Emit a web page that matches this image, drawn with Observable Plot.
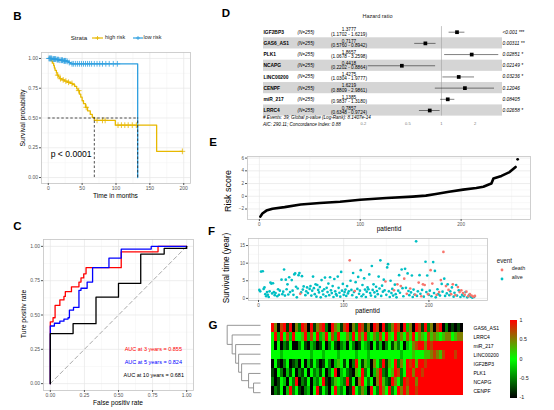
<!DOCTYPE html>
<html><head><meta charset="utf-8">
<script src="https://cdn.jsdelivr.net/npm/d3@7"></script>
<script src="https://cdn.jsdelivr.net/npm/@observablehq/plot@0.6"></script>
<style>
html,body{margin:0;padding:0;background:#fff;}
#root{position:relative;width:554px;height:410px;overflow:hidden;background:#fff;}
#root svg{overflow:visible;}
</style></head><body><div id="root"></div>
<script>
// ---------------- DATA ----------------
// B: Kaplan-Meier
const highTime = [0,4,6,8,9,10,12,13,15,17,20,24,28,33,36,39,42,44,46,48,50,52,55,58,62,65,68,99,160,198];
const highSurv = [1,0.98,0.96,0.94,0.92,0.90,0.88,0.86,0.845,0.83,0.82,0.81,0.80,0.79,0.78,0.765,0.745,0.73,0.70,0.675,0.645,0.62,0.59,0.56,0.53,0.505,0.48,0.44,0.22,0.22];
const highCensor = [14,18,22,26,30,35,45,56,72,80,84,103,108,113,118,124,130,198];
const lowTime = [0,6,12,16,22,27,30,33,132];
const lowSurv = [1,0.995,0.99,0.985,0.98,0.975,0.965,0.955,0];
const lowCensor = [1,2,3,4,5,7,8,9,10,11,13,14,15,17,19,20,21,23,24,25,26,28,31,35,37,40,43,46,49,52,55,58,61,64,68,72,76,80,85,90,96,102];
const kmXTicks = [0,50,100,150,200];
const probTicks = [0,0.25,0.5,0.75,1];

// C: ROC curves (step vertices)
const roc3 = [[0,0],[0,0.45],[0.02,0.48],[0.035,0.57],[0.07,0.61],[0.1,0.635],[0.11,0.67],[0.155,0.705],[0.21,0.74],[0.225,0.77],[0.245,0.80],[0.262,0.845],[0.52,0.96],[0.79,1],[1,1]];
const roc5 = [[0,0],[0,0.42],[0.03,0.44],[0.07,0.455],[0.1,0.47],[0.13,0.48],[0.14,0.535],[0.17,0.555],[0.21,0.68],[0.225,0.695],[0.27,0.74],[0.31,0.845],[0.43,0.915],[0.52,0.98],[0.74,1],[1,1]];
const roc10 = [[0,0],[0,0.365],[0.167,0.437],[0.335,0.63],[0.5,0.73],[0.663,0.944],[0.835,0.985],[1,1]];
const aucLabels = ["AUC at 3 years = 0.855","AUC at 5 years = 0.824","AUC at 10 years = 0.681"];
const rocColors = ["#ff0000","#0000ff","#000000"];

// D: forest plot
const fpGene = ["IGF2BP3","GAS6_AS1","PLK1","NCAPG","LINC00200","CENPF","miR_217","LRRC4"];
const fpHR = [1.3777,0.7177,1.8657,0.4418,1.4275,1.6219,1.1385,0.7857];
const fpLo = [1.1702,0.5760,1.0678,0.2202,1.0304,0.8809,0.9837,0.6348];
const fpHi = [1.6219,0.8942,3.2598,0.8864,1.9777,2.9861,1.3180,0.9724];
const fpP = ["<0.001","0.00311","0.02851","0.02149","0.03236","0.12046","0.08405","0.02658"];
const fpStars = ["***","**","*","*","*","","","*"];
const fpN = 255;
const fpTicks = [0.2,0.5,1,2];
const fpNote1 = "# Events: 39; Global p-value (Log-Rank): 8.1407e-14";
const fpNote2 = "AIC: 290.11; Concordance Index: 0.88";

// E: risk score (sorted)
const riskId = [1,3,7,13,25,41,60,80,100,126,152,165,175,188,202,215,222,228,230,232,240,248,254];
const riskScore = [-3.2,-2.7,-2.25,-1.95,-1.7,-1.3,-1.05,-0.85,-0.55,-0.28,-0.05,0.1,0.35,0.72,1.05,1.3,1.5,1.9,2.0,2.8,3.2,3.8,4.6];
const riskOutlier = [[256,5.8]];

// F: survival time per patient
const alive = [[1,2.4],[2,2.0],[3,7.6],[5,7.7],[6,2.7],[7,3.1],[8,1.2],[9,0.6],[10,1.8],[11,1.0],[12,0.4],[13,2.0],[14,4.5],[15,4.2],[16,1.4],[17,4.3],[18,1.8],[19,0.9],[20,1.5],[22,0.6],[23,2.6],[24,1.0],[25,2.2],[27,5.3],[28,1.2],[29,1.9],[30,8.2],[31,0.8],[32,5.3],[33,2.6],[34,4.0],[35,1.1],[36,6.0],[37,1.8],[39,5.2],[40,2.2],[41,1.0],[42,6.8],[43,7.1],[44,3.3],[45,0.3],[46,2.8],[47,6.6],[48,7.2],[50,1.7],[51,6.3],[52,2.5],[53,3.4],[55,0.9],[56,2.0],[57,3.1],[58,1.5],[60,2.7],[61,3.5],[62,0.8],[63,2.2],[64,6.2],[65,2.9],[66,1.2],[67,4.0],[68,0.5],[69,3.8],[70,2.4],[71,1.7],[72,3.2],[73,0.3],[74,5.2],[75,2.1],[76,1.1],[77,2.6],[78,5.9],[79,0.6],[80,3.0],[81,1.8],[82,4.2],[83,0.9],[84,6.0],[85,2.3],[86,1.5],[87,3.5],[88,0.4],[89,5.5],[90,2.0],[91,1.2],[92,0.8],[93,6.2],[94,3.0],[95,1.6],[96,0.5],[97,7.5],[98,2.2],[99,4.1],[100,1.0],[101,1.8],[102,2.5],[103,0.7],[104,3.5],[105,1.4],[106,2.0],[108,5.0],[109,2.4],[110,0.9],[111,7.2],[112,1.8],[114,4.6],[115,0.3],[116,2.7],[117,6.1],[118,1.3],[119,2.2],[120,8.0],[121,0.6],[122,3.8],[123,1.1],[124,5.7],[125,2.5],[126,0.4],[127,1.9],[128,3.1],[129,2.6],[130,6.8],[131,1.5],[132,0.8],[133,9.2],[134,2.4],[135,4.0],[136,1.7],[137,0.5],[138,3.3],[139,2.1],[140,1.2],[141,6.2],[142,2.8],[143,10.8],[144,0.7],[145,3.6],[146,1.9],[147,5.3],[148,2.3],[150,1.0],[151,8.8],[152,9.7],[153,2.0],[154,0.4],[155,5.0],[156,1.5],[157,2.7],[158,0.8],[160,3.9],[161,1.2],[162,0.3],[164,2.2],[165,6.6],[166,1.6],[168,8.2],[169,2.9],[170,0.6],[172,8.4],[173,3.0],[175,7.1],[176,2.1],[177,0.9],[179,1.7],[180,6.5],[181,0.4],[182,2.5],[183,1.1],[185,16.2],[186,0.7],[187,2.0],[189,6.6],[190,1.3],[192,2.4],[194,0.5],[196,10.4],[197,1.8],[198,6.5],[200,1.0],[201,2.2],[203,0.6],[205,10.3],[206,1.5],[207,7.8],[208,0.3],[210,2.6],[211,1.2],[213,0.8],[215,4.1],[216,1.9],[218,5.6],[219,0.7],[221,1.4],[222,4.0],[224,0.9],[225,2.0],[227,3.1],[229,0.5],[230,1.6],[232,3.8],[233,0.8],[235,2.3],[237,0.4],[239,1.0],[241,0.6],[243,1.8],[245,0.3],[247,0.9],[249,0.5],[251,0.2],[253,0.4]];
const death = [[49,1.3],[107,10.8],[113,2.1],[149,4.8],[159,2.3],[163,4.0],[167,3.5],[171,5.6],[174,1.3],[178,2.8],[184,1.0],[188,4.5],[191,0.6],[193,4.0],[195,3.8],[199,1.2],[202,8.0],[204,4.2],[209,1.0],[212,1.8],[214,5.2],[217,13.2],[220,3.5],[223,2.4],[226,1.2],[228,4.0],[231,0.9],[234,3.2],[236,1.8],[238,2.3],[240,1.5],[242,1.0],[244,1.9],[246,0.6],[248,1.2],[250,0.8],[252,0.5],[254,0.7]];

// G: heatmap (digit d -> value (d-4)/4, i.e. 0=-1 ... 4=0 ... 8=1)
const heatGenes = ["GAS6_AS1","LRRC4","miR_217","LINC00200","IGF2BP3","PLK1","NCAPG","CENPF"];
const heatRows = [
 "86078180 62870816 78208651 78062871 60870812 68708360 87182607 80201010",
 "48384738 44583748 35847384 46384758 34637485 48364758 46547565 45664566",
 "40402140 02410320 14024102 30420143 20413024 15240346 78868788 88888888",
 "44434444 44444344 43444434 44443444 34444444 44434445 44455676 57888788",
 "04102401 20403142 01420354 14028415 30642815 48264878 58878888 88888888",
 "10420314 02140423 14024803 42105482 40368214 58724886 88788888 88888888",
 "20143042 80214032 48102543 28140684 24068521 86428788 68888888 88888888",
 "02140382 41023048 14204832 40184263 08428648 24868688 78888888 88888888"
];
const dendroHeights = [0.7,1.2,1.9,2.2,2.5,2.85,3.35];
const heatColorDomain = [-1,0,1];
const heatColorRange = ["#000000","#00ff00","#ff0000"];
const heatLegendTicks = ["1","0.5","0","-0.5","-1"];

// ---------------- HELPERS ----------------
const FONT = '"Liberation Sans", Arial, Helvetica, sans-serif';
const root = document.getElementById("root");
function put(node, left, top) {
  node.style.position = "absolute"; node.style.left = left + "px"; node.style.top = top + "px";
  root.appendChild(node); return node;
}
function label(text, x, y, o = {}) {
  const d = document.createElement("div");
  d.textContent = text;
  const a = o.anchor || "middle";
  const tx = a === "middle" ? "-50%" : a === "end" ? "-100%" : "0";
  d.style.cssText = `position:absolute;left:${x}px;top:${y}px;white-space:nowrap;line-height:1;` +
    `font-family:${FONT};font-size:${o.size || 6}px;color:${o.color || "#000"};` +
    `font-weight:${o.weight || "normal"};font-style:${o.italic ? "italic" : "normal"};` +
    `transform:translate(${tx},-50%)${o.rotate ? " rotate(-90deg)" : ""};transform-origin:50% 50%;`;
  root.appendChild(d); return d;
}
function svgEl(html, left, top, w, h) {
  const d = document.createElement("div");
  d.innerHTML = `<svg width="${w}" height="${h}" xmlns="http://www.w3.org/2000/svg">${html}</svg>`;
  d.style.lineHeight = "0";
  return put(d, left, top);
}
const baseStyle = {fontFamily: FONT, fontSize: "5px", color: "#4d4d4d", background: "transparent", overflow: "visible"};
const GRID_MAJ = "#e6e6e6", GRID_MIN = "#f3f3f3", FRAME = "#c4c4c4";

// ---------------- B: KM ----------------
const HIGH = "#E7B800", LOW = "#2E9FDF";
const survAt = (times, survs, t) => { let s = survs[0]; for (let i = 0; i < times.length; i++) if (times[i] <= t) s = survs[i]; return s; };
const medianOf = (times, survs) => times[survs.findIndex(s => s <= 0.5)];
const kmHigh = highTime.map((t, i) => ({t, s: highSurv[i]}));
const kmLow = lowTime.map((t, i) => ({t, s: lowSurv[i]}));
const cenHigh = highCensor.map(t => ({t, s: survAt(highTime, highSurv, t)}));
const cenLow = lowCensor.map(t => ({t, s: survAt(lowTime, lowSurv, t)}));
const medHigh = medianOf(highTime, highSurv), medLow = medianOf(lowTime, lowSurv);
const midTicks = a => a.slice(1).map((v, i) => (v + a[i]) / 2);

const plotB = Plot.plot({
  width: 200, height: 200, marginLeft: 41, marginRight: 10, marginTop: 52, marginBottom: 17,
  x: {domain: [-10, 210]}, y: {domain: [-0.05, 1.05]},
  style: baseStyle,
  marks: [
    Plot.gridX({ticks: midTicks(kmXTicks), stroke: GRID_MIN, strokeOpacity: 1, strokeWidth: 0.5}),
    Plot.gridY({ticks: midTicks(probTicks), stroke: GRID_MIN, strokeOpacity: 1, strokeWidth: 0.5}),
    Plot.gridX({ticks: kmXTicks, stroke: GRID_MAJ, strokeOpacity: 1, strokeWidth: 0.7}),
    Plot.gridY({ticks: probTicks, stroke: GRID_MAJ, strokeOpacity: 1, strokeWidth: 0.7}),
    Plot.frame({stroke: FRAME, strokeWidth: 0.8}),
    Plot.axisX({ticks: kmXTicks, tickSize: 2, tickPadding: 1, label: null, fontSize: 5, color: "#555"}),
    Plot.axisY({ticks: probTicks, tickFormat: d3.format(".2f"), tickSize: 2, tickPadding: 1.5, label: null, fontSize: 5, color: "#555"}),
    Plot.line(kmHigh, {x: "t", y: "s", curve: "step-after", stroke: HIGH, strokeWidth: 1.3}),
    Plot.line(kmLow, {x: "t", y: "s", curve: "step-after", stroke: LOW, strokeWidth: 1.3}),
    Plot.dot(cenHigh, {x: "t", y: "s", symbol: "plus", r: 2, stroke: HIGH, strokeWidth: 0.8}),
    Plot.dot(cenLow, {x: "t", y: "s", symbol: "plus", r: 2, stroke: LOW, strokeWidth: 0.8}),
    Plot.ruleY([0.5], {x1: 0, x2: medLow, stroke: "#222", strokeWidth: 0.8, strokeDasharray: "2.5,2"}),
    Plot.ruleX([medHigh, medLow], {y1: 0, y2: 0.5, stroke: "#222", strokeWidth: 0.8, strokeDasharray: "2.5,2"})
  ]
});
put(plotB, 0, 0);
label("B", 17.5, 16.7, {size: 11.5, weight: "bold"});
label("Strata", 70.7, 37.5, {size: 6.2, anchor: "start", color: "#222"});
svgEl(`<line x1="0" y1="3" x2="11" y2="3" stroke="${HIGH}" stroke-width="1.2"/><path d="M5.5 1v4M3.5 3h4" stroke="${HIGH}" stroke-width="0.8"/>`, 92, 34.5, 11, 6);
label("high risk", 105, 37.5, {size: 5.4, anchor: "start", color: "#222"});
svgEl(`<line x1="0" y1="3" x2="10" y2="3" stroke="${LOW}" stroke-width="1.2"/><path d="M5 1v4M3 3h4" stroke="${LOW}" stroke-width="0.8"/>`, 132.5, 34.5, 10, 6);
label("low risk", 143.5, 37.5, {size: 5.4, anchor: "start", color: "#222"});
label("p < 0.0001", 50.7, 154, {size: 8.6, anchor: "start"});
label("Survival probability", 23, 117.5, {size: 6.8, rotate: true});
label("Time in months", 115.5, 195.5, {size: 6.6});

// ---------------- C: ROC ----------------
const rocSeries = [roc3, roc5, roc10].map((pts, k) => pts.map(([f, t]) => ({f, t, k})));
const diag = [0, 1].map(v => ({f: v, t: v}));
const plotC = Plot.plot({
  width: 200, height: 210, marginLeft: 43, marginRight: 7, marginTop: 39, marginBottom: 20,
  x: {domain: [-0.05, 1.05]}, y: {domain: [-0.05, 1.05]},
  style: baseStyle,
  marks: [
    Plot.gridX({ticks: midTicks(probTicks), stroke: GRID_MIN, strokeOpacity: 1, strokeWidth: 0.5}),
    Plot.gridY({ticks: midTicks(probTicks), stroke: GRID_MIN, strokeOpacity: 1, strokeWidth: 0.5}),
    Plot.gridX({ticks: probTicks, stroke: GRID_MAJ, strokeOpacity: 1, strokeWidth: 0.7}),
    Plot.gridY({ticks: probTicks, stroke: GRID_MAJ, strokeOpacity: 1, strokeWidth: 0.7}),
    Plot.frame({stroke: FRAME, strokeWidth: 0.8}),
    Plot.axisX({ticks: probTicks, tickFormat: d3.format(".2f"), tickSize: 2, tickPadding: 1, label: null, fontSize: 5, color: "#555"}),
    Plot.axisY({ticks: probTicks, tickFormat: d3.format(".2f"), tickSize: 2, tickPadding: 1.5, label: null, fontSize: 5, color: "#555"}),
    Plot.line(diag, {x: "f", y: "t", stroke: "#aaaaaa", strokeWidth: 1, strokeDasharray: "4,3"}),
    ...rocSeries.map((s, k) => Plot.line(s, {x: "f", y: "t", curve: "step-after", stroke: rocColors[k], strokeWidth: 1.3}))
  ]
});
put(plotC, 0, 200);
label("C", 17.5, 227, {size: 11.5, weight: "bold"});
label(aucLabels[0], 153.3, 350, {size: 5.5, color: rocColors[0]});
label(aucLabels[1], 153.3, 363.3, {size: 5.5, color: rocColors[1]});
label(aucLabels[2], 153.8, 376, {size: 5.5, color: rocColors[2]});
label("Ture positiv rate", 24, 314, {size: 6.8, rotate: true});
label("False positiv rate", 118, 403, {size: 6.6});

// ---------------- D: forest ----------------
const XDOM = [0.0255, 3.52];
const fpRows = fpGene.map((g, i) => ({i, gene: g, hr: fpHR[i], lo: fpLo[i], hi: fpHi[i], p: fpP[i], stars: fpStars[i]}));
const plotD = Plot.plot({
  width: 324, height: 130, marginLeft: 33, marginRight: 52, marginTop: 26.1, marginBottom: 14.4,
  x: {type: "log", domain: XDOM}, y: {domain: [fpGene.length - 0.5, -0.5], axis: null},
  style: {...baseStyle, fontSize: "4.7px", color: "#000"},
  marks: [
    Plot.rect(fpRows.filter(d => d.i % 2 === 1), {x1: XDOM[0], x2: XDOM[1], y1: d => d.i - 0.5, y2: d => d.i + 0.5, fill: "#d5d5d5"}),
    Plot.ruleX([1], {stroke: "#a0a0a0", strokeWidth: 0.6}),
    Plot.ruleY(fpRows, {y: "i", x1: "lo", x2: "hi", stroke: "#000", strokeWidth: 0.5}),
    Plot.dot(fpRows, {y: "i", x: "hr", symbol: "square", r: 2.1, fill: "#000"}),
    Plot.text(fpRows, {y: "i", text: "gene", frameAnchor: "left", textAnchor: "start", fontWeight: "bold", fontSize: 4.9}),
    Plot.text(fpRows, {y: "i", text: () => `(N=${fpN})`, frameAnchor: "left", textAnchor: "start", dx: 34, fontStyle: "italic", fontSize: 4.6}),
    Plot.text(fpRows, {y: "i", text: d => d.hr.toFixed(4), frameAnchor: "left", textAnchor: "middle", dx: 85.5, dy: -2.3, fontSize: 4.7}),
    Plot.text(fpRows, {y: "i", text: d => `(${d.lo.toFixed(4)} - ${d.hi.toFixed(4)})`, frameAnchor: "left", textAnchor: "middle", dx: 85.5, dy: 2, fontSize: 4.7}),
    Plot.text(fpRows, {y: "i", text: d => d.p + (d.stars ? " " + d.stars : ""), frameAnchor: "right", textAnchor: "start", fontStyle: "italic", fontSize: 4.8}),
    Plot.axisX({ticks: fpTicks, tickFormat: d => String(d), tickSize: 0, tickPadding: 6.5, label: null, fontSize: 4, color: "#777"})
  ]
});
put(plotD, 230, 0);
label("D", 226, 14, {size: 11.5, weight: "bold"});
label("Hazard ratio", 377.5, 16.7, {size: 5.5, color: "#222"});
label(fpNote1, 263, 118.3, {size: 4.6, anchor: "start", italic: true});
label(fpNote2, 263, 124.6, {size: 4.6, anchor: "start", italic: true});

// ---------------- E: risk score ----------------
const riskTicksY = [-2, 0, 2, 4, 6], idTicks = [0, 100, 200];
const riskData = riskId.map((id, i) => ({id, r: riskScore[i]}));
const plotE = Plot.plot({
  width: 354, height: 100, marginLeft: 47, marginRight: 24, marginTop: 26, marginBottom: 11,
  x: {domain: [-11.75, 268.75]}, y: {domain: [-3.65, 6.25]},
  style: baseStyle,
  marks: [
    Plot.gridX({ticks: [50, 150, 250], stroke: GRID_MIN, strokeOpacity: 1, strokeWidth: 0.5}),
    Plot.gridY({ticks: [-3, -1, 1, 3, 5], stroke: GRID_MIN, strokeOpacity: 1, strokeWidth: 0.5}),
    Plot.gridX({ticks: idTicks, stroke: GRID_MAJ, strokeOpacity: 1, strokeWidth: 0.7}),
    Plot.gridY({ticks: riskTicksY, stroke: GRID_MAJ, strokeOpacity: 1, strokeWidth: 0.7}),
    Plot.frame({stroke: FRAME, strokeWidth: 0.8}),
    Plot.axisX({ticks: idTicks, tickSize: 2, tickPadding: 1.5, label: null, fontSize: 4.6, color: "#555"}),
    Plot.axisY({ticks: riskTicksY, tickSize: 2, tickPadding: 1.5, label: null, fontSize: 4.6, color: "#555"}),
    Plot.line(riskData, {x: "id", y: "r", stroke: "#000", strokeWidth: 2.6, strokeLinecap: "round", strokeLinejoin: "round"}),
    Plot.dot(riskOutlier, {x: d => d[0], y: d => d[1], r: 1.4, fill: "#000"})
  ]
});
put(plotE, 200, 130);
label("E", 213, 142.5, {size: 11.5, weight: "bold"});
label("Risk score", 228.3, 191, {size: 9, rotate: true});
label("patientid", 389, 229.3, {size: 6.5});

// ---------------- F: survival time ----------------
const ALIVE = "#00BFC4", DEATH = "#F8766D";
const yrTicks = [0, 5, 10, 15];
const plotF = Plot.plot({
  width: 354, height: 85, marginLeft: 48, marginRight: 67, marginTop: 8, marginBottom: 15,
  x: {domain: [-11.75, 268.75]}, y: {domain: [-0.6, 17]},
  style: baseStyle,
  marks: [
    Plot.gridX({ticks: [50, 150, 250], stroke: GRID_MIN, strokeOpacity: 1, strokeWidth: 0.5}),
    Plot.gridY({ticks: [2.5, 7.5, 12.5], stroke: GRID_MIN, strokeOpacity: 1, strokeWidth: 0.5}),
    Plot.gridX({ticks: idTicks, stroke: GRID_MAJ, strokeOpacity: 1, strokeWidth: 0.7}),
    Plot.gridY({ticks: yrTicks, stroke: GRID_MAJ, strokeOpacity: 1, strokeWidth: 0.7}),
    Plot.frame({stroke: FRAME, strokeWidth: 0.8}),
    Plot.axisX({ticks: idTicks, tickSize: 2, tickPadding: 1.5, label: null, fontSize: 4.6, color: "#555"}),
    Plot.axisY({ticks: yrTicks, tickSize: 2, tickPadding: 1.5, label: null, fontSize: 4.6, color: "#555"}),
    Plot.dot(alive, {x: d => d[0], y: d => d[1], r: 1.35, fill: ALIVE}),
    Plot.dot(death, {x: d => d[0], y: d => d[1], r: 1.35, fill: DEATH})
  ]
});
put(plotF, 200, 230);
label("F", 211.5, 231.5, {size: 11.5, weight: "bold"});
label("Survival time (year)", 227, 268, {size: 8.2, rotate: true});
label("patientid", 367.5, 311, {size: 6.5});
label("event", 496.7, 261, {size: 6.3, anchor: "start", color: "#222"});
svgEl(`<circle cx="2" cy="2" r="1.4" fill="${DEATH}"/>`, 500.3, 267.3, 4, 4);
label("death", 511.7, 269.3, {size: 5.4, anchor: "start", color: "#222"});
svgEl(`<circle cx="2" cy="2" r="1.4" fill="${ALIVE}"/>`, 500.3, 276.3, 4, 4);
label("alive", 511.7, 278.3, {size: 5.4, anchor: "start", color: "#222"});

// ---------------- G: heatmap + dendrogram ----------------
const heatData = [];
heatRows.forEach((row, r) => {
  row.replace(/\s/g, "").split("").forEach((ch, c) => heatData.push({gene: heatGenes[r], col: c, v: (+ch - 4) / 4}));
});
const nCols = heatRows[0].replace(/\s/g, "").length;
const plotG = Plot.plot({
  width: 260, height: 87, marginLeft: 0, marginRight: 51, marginTop: 5, marginBottom: 5,
  x: {type: "band", domain: d3.range(nCols), padding: 0, axis: null},
  y: {type: "band", domain: heatGenes, padding: 0},
  color: {type: "linear", domain: heatColorDomain, range: heatColorRange, interpolate: "rgb"},
  style: {...baseStyle, color: "#000"},
  marks: [
    Plot.cell(heatData, {x: "col", y: "gene", fill: "v", inset: 0, shapeRendering: "crispEdges"}),
    Plot.axisY({anchor: "right", tickSize: 0, tickPadding: 2, label: null, fontSize: 5, color: "#000"})
  ]
});
put(plotG, 262, 315);

// dendrogram (ladder: NCAPG+CENPF first, then each upper leaf joins)
const segs = [];
let cur = {h: 0, y: heatGenes.length - 1};
for (let k = heatGenes.length - 2, m = 0; k >= 0; k--, m++) {
  const h = dendroHeights[m];
  segs.push({x1: 0, y1: k, x2: h, y2: k});
  segs.push({x1: cur.h, y1: cur.y, x2: h, y2: cur.y});
  segs.push({x1: h, y1: k, x2: h, y2: cur.y});
  cur = {h, y: (k + cur.y) / 2};
}
const plotDen = Plot.plot({
  width: 40, height: 77, marginLeft: 0, marginRight: 2, marginTop: 0, marginBottom: 0,
  x: {domain: [3.82, 0], axis: null}, y: {domain: [heatGenes.length - 0.5, -0.5], axis: null},
  style: baseStyle,
  marks: [Plot.link(segs, {x1: "x1", y1: "y1", x2: "x2", y2: "y2", stroke: "#8a8a8a", strokeWidth: 0.9})]
});
put(plotDen, 222, 320);
label("G", 213, 325.5, {size: 11.5, weight: "bold"});

// color bar
const cscale = d3.scaleLinear().domain(heatColorDomain).range(heatColorRange).interpolate(d3.interpolateRgb);
const stops = d3.range(0, 1.0001, 0.05).map(t => `${cscale(-1 + 2 * t)} ${(t * 100).toFixed(1)}%`).join(",");
const bar = document.createElement("div");
bar.style.cssText = `width:7px;height:77.5px;background:linear-gradient(to top,${stops});`;
put(bar, 510, 320.3);
heatLegendTicks.forEach((t, i) => label(t, 519.5, 321.3 + i * 19.1, {size: 5.3, anchor: "start", color: "#222"}));
</script></body></html>
